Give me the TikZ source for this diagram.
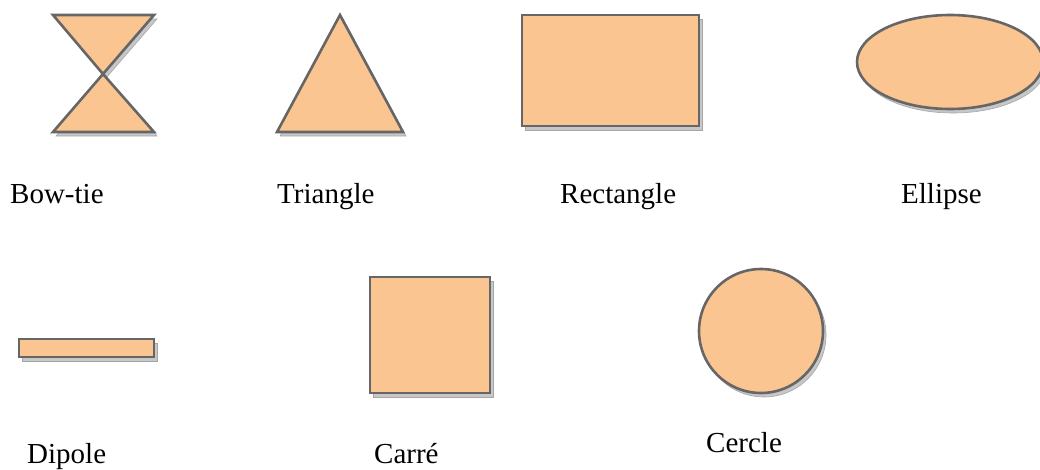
\documentclass[tikz,border=0pt]{standalone}
\usepackage{fontspec}
\setmainfont{Liberation Serif}
\begin{document}
\begin{tikzpicture}[x=1pt,y=-1pt,
  shp/.style={fill=shapefill,draw=shapeline,line width=2.6pt,line join=miter},
  shd/.style={fill=black!22,draw=black!35,line width=0.6pt,shift={(3,4)}},
  lbl/.style={anchor=base west,inner sep=0pt,font=\fontsize{29}{29}\selectfont}]
\definecolor{shapefill}{HTML}{FAC590}
\definecolor{shapeline}{HTML}{666666}
\useasboundingbox (0,0) rectangle (1040,469);
% shadows
\fill[shd] (53,15) -- (154,15) -- (103,74) -- (154,132) -- (53,132) -- (103,74) -- cycle;
\fill[shd] (340,15) -- (403,132) -- (277,132) -- cycle;
\fill[shd] (522,15) rectangle (699,126);
\fill[shd] (950,62) ellipse [x radius=93, y radius=47];
\fill[shd] (19,339) rectangle (154,357);
\fill[shd] (370,277) rectangle (490,393);
\fill[shd] (761,331) circle [radius=62];
% shapes
\path[shp] (53,15) -- (154,15) -- (103,74) -- (154,132) -- (53,132) -- (103,74) -- cycle;
\path[shp] (340,15) -- (403,132) -- (277,132) -- cycle;
\path[shp] (522,15) rectangle (699,126);
\path[shp] (950,62) ellipse [x radius=93, y radius=47];
\path[shp] (19,339) rectangle (154,357);
\path[shp] (370,277) rectangle (490,393);
\path[shp] (761,331) circle [radius=62];
% labels
\node[lbl] (lbow) at (10,203) {Bow-tie};
\node[lbl] (ltri) at (277,203) {Triangle};
\node[lbl] (lrect) at (560,203) {Rectangle};
\node[lbl] (lell) at (901,203) {Ellipse};
\node[lbl] (ldip) at (27,463) {Dipole};
\node[lbl] (lcar) at (374,463) {Carré};
\node[lbl] (lcer) at (706,452) {Cercle};
\end{tikzpicture}
\end{document}
